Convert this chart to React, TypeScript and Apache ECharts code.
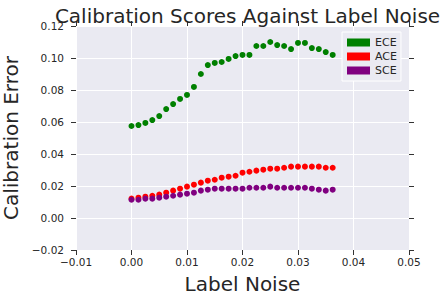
import React, { useEffect, useRef } from "react";
import * as echarts from "echarts";

const noise = [
  0, 0.00125, 0.0025, 0.00375, 0.005, 0.00625, 0.0075, 0.00875, 0.01, 0.01125,
  0.0125, 0.01375, 0.015, 0.01625, 0.0175, 0.01875, 0.02, 0.02125, 0.0225, 0.02375,
  0.025, 0.02625, 0.0275, 0.02875, 0.03, 0.03125, 0.0325, 0.03375, 0.035, 0.03625,
];
const ece = [
  0.0575, 0.0581, 0.0594, 0.0612, 0.0637, 0.0681, 0.0712, 0.0744, 0.0769, 0.0819,
  0.09, 0.0956, 0.0969, 0.0975, 0.0994, 0.1012, 0.1019, 0.1019, 0.1075, 0.1075,
  0.11, 0.1081, 0.1075, 0.1056, 0.1094, 0.1094, 0.1062, 0.1056, 0.1037, 0.1019,
];
const ace = [
  0.0121, 0.0127, 0.0133, 0.0139, 0.0146, 0.0158, 0.0171, 0.0183, 0.0196, 0.0208,
  0.0221, 0.0233, 0.0239, 0.0252, 0.0258, 0.0264, 0.0283, 0.0289, 0.0296, 0.0302,
  0.0308, 0.0308, 0.0314, 0.0321, 0.0321, 0.0321, 0.0321, 0.0321, 0.0314, 0.0314,
];
const sce = [
  0.0114, 0.0114, 0.0121, 0.0121, 0.0127, 0.0133, 0.0139, 0.0146, 0.0152, 0.0158,
  0.0171, 0.0177, 0.0183, 0.0183, 0.0183, 0.0183, 0.0183, 0.0189, 0.0189, 0.0189,
  0.0196, 0.0189, 0.0189, 0.0189, 0.0189, 0.0189, 0.0183, 0.0177, 0.0171, 0.0177,
];
const seriesNames = ["ECE", "ACE", "SCE"];
const seriesColors = ["#008000", "#FF0000", "#800080"];

const FONT = "DejaVu Sans";
const TEXT = "#262626";

export default function App() {
  const ref = useRef<HTMLDivElement>(null);
  useEffect(() => {
    document.body.style.margin = "0";
    if (!ref.current) return;
    const chart = echarts.init(ref.current, undefined, { renderer: "svg" });
    const values = [ece, ace, sce];
    const tickCommon = { show: true, inside: false, length: 5, lineStyle: { color: "#333", width: 1 } };
    const fmt = (v: number) => v.toFixed(2).replace("-", "\u2212");
    chart.setOption({
      animation: false,
      backgroundColor: "#ffffff",
      title: {
        text: "Calibration Scores Against Label Noise",
        left: 242.5,
        top: 1,
        textAlign: "center",
        textStyle: { fontFamily: FONT, fontSize: 20, fontWeight: "normal", color: TEXT },
      },
      legend: {
        data: seriesNames,
        orient: "vertical",
        left: 342,
        top: 32,
        padding: [5, 4, 5, 5],
        itemGap: 3,
        itemWidth: 23,
        itemHeight: 8,
        icon: "rect",
        backgroundColor: "#EAEAF2",
        borderColor: "#ffffff",
        borderWidth: 1,
        borderRadius: 0,
        textStyle: { fontFamily: FONT, fontSize: 11, color: TEXT },
      },
      grid: {
        left: 76,
        right: 33,
        top: 26,
        bottom: 51,
        show: true,
        backgroundColor: "#EAEAF2",
        borderWidth: 0,
        containLabel: false,
        outerBoundsMode: "none",
      },
      xAxis: [
        {
          type: "value",
          min: -0.01,
          max: 0.05,
          interval: 0.01,
          name: "Label Noise",
          nameLocation: "middle",
          nameGap: 24,
          nameTextStyle: { fontFamily: FONT, fontSize: 20, color: TEXT },
          axisLine: { show: false, onZero: false },
          axisTick: tickCommon,
          axisLabel: { fontFamily: FONT, fontSize: 10.5, color: TEXT, margin: 6, formatter: fmt },
          splitLine: { show: true, lineStyle: { color: "#ffffff", width: 1 } },
        },
        {
          type: "value",
          position: "top",
          min: -0.01,
          max: 0.05,
          interval: 0.01,
          axisLine: { show: false, onZero: false },
          axisTick: tickCommon,
          axisLabel: { show: false },
          splitLine: { show: false },
        },
      ],
      yAxis: [
        {
          type: "value",
          min: -0.02,
          max: 0.12,
          interval: 0.02,
          name: "Calibration Error",
          nameLocation: "middle",
          nameGap: 46,
          nameTextStyle: { fontFamily: FONT, fontSize: 20, color: TEXT },
          axisLine: { show: false, onZero: false },
          axisTick: tickCommon,
          axisLabel: { fontFamily: FONT, fontSize: 10.5, color: TEXT, margin: 12, formatter: fmt },
          splitLine: { show: true, lineStyle: { color: "#ffffff", width: 1 } },
        },
        {
          type: "value",
          position: "right",
          min: -0.02,
          max: 0.12,
          interval: 0.02,
          axisLine: { show: false, onZero: false },
          axisTick: tickCommon,
          axisLabel: { show: false },
          splitLine: { show: false },
        },
      ],
      series: seriesNames.map((name, k) => ({
        name,
        type: "scatter",
        xAxisIndex: 0,
        yAxisIndex: 0,
        symbol: "circle",
        symbolSize: 6,
        itemStyle: { color: seriesColors[k], opacity: 1 },
        data: noise.map((x, i) => [x, values[k][i]]),
      })),
    });
    return () => chart.dispose();
  }, []);
  return <div ref={ref} style={{ width: 442, height: 301 }} />;
}
